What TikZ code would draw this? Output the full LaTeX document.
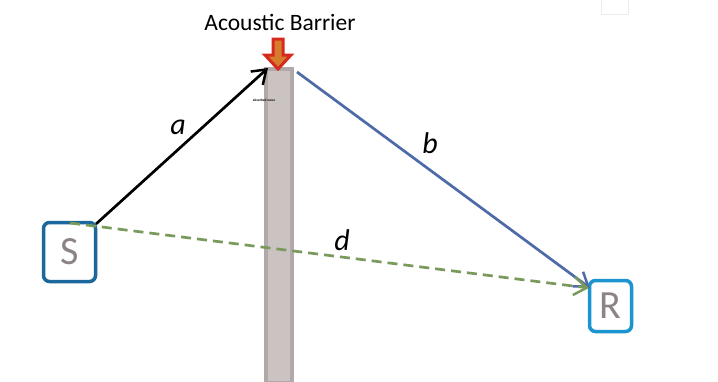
\documentclass[tikz,border=0pt]{standalone}
\usepackage{fontspec}
\setmainfont{Carlito}
\usetikzlibrary{arrows.meta}
\definecolor{sblue}{RGB}{28,104,156}
\definecolor{rblue}{RGB}{28,148,208}
\definecolor{lblue}{RGB}{78,106,168}
\definecolor{dgreen}{RGB}{122,154,92}
\definecolor{barfill}{RGB}{203,195,194}
\definecolor{bardraw}{RGB}{178,168,170}
\definecolor{txtgray}{RGB}{140,132,132}
\definecolor{ared}{RGB}{214,42,30}
\definecolor{aorange}{RGB}{214,124,44}
\tikzset{
  endbox/.style={draw, line width=3.5pt, rounded corners=6pt, text=txtgray, font=\fontsize{40}{40}\selectfont, inner sep=0pt},
  raylab/.style={font=\fontsize{30}{30}\selectfont\itshape},
  ray/.style={line width=2.7pt, -{Straight Barb[length=13pt,width=18pt,line width=2.5pt]}},
}
\begin{document}
\begin{tikzpicture}[x=1pt,y=-1pt]
\useasboundingbox (0,0) rectangle (718,381);
\fill[white] (0,0) rectangle (718,381);
% faint square top right
\draw[draw=black!8, line width=1pt] (601,-2) rectangle (628,14);
% barrier
\draw[fill=barfill, draw=bardraw, line width=4pt] (266,69) rectangle (292,383);
\coordinate (topL) at (268,68);
\coordinate (topR) at (297,72);
% tiny text
\node[font=\fontsize{3.5}{3.5}\selectfont\bfseries, inner sep=0pt] (tiny) at (264,100) {absorbed wave};
% title
\node[font=\fontsize{23.5}{23.5}\selectfont, inner sep=0pt] (title) at (280,22) {Acoustic Barrier};
% red arrow
\draw[fill=aorange, draw=ared, line width=3pt, line join=miter]
  (273,39) -- (283,39) -- (283,55) -- (291,55) -- (278,69) -- (265,55) -- (273,55) -- cycle;
% boxes
\node[endbox, draw=sblue, minimum width=52pt, minimum height=59pt] (S) at (69.5,252) {S};
\node[endbox, draw=rblue, minimum width=42pt, minimum height=51pt] (R) at (610.5,306) {R};
\coordinate (Sa) at (96,224);
\coordinate (Sd) at (70,223);
\coordinate (Rb) at (590,288);
\coordinate (Rd) at (589,288);
% rays
\draw[ray, draw=black] (Sa) -- (topL);
\draw[ray, draw=lblue] (topR) -- (Rb);
\draw[ray, draw=dgreen, dash pattern=on 10pt off 6pt] (Sd) -- (Rd);
% labels
\node[raylab] (la) at (178,127) {a};
\node[raylab] (lb) at (430,143) {b};
\node[raylab] (ld) at (342,240) {d};
\end{tikzpicture}
\end{document}
